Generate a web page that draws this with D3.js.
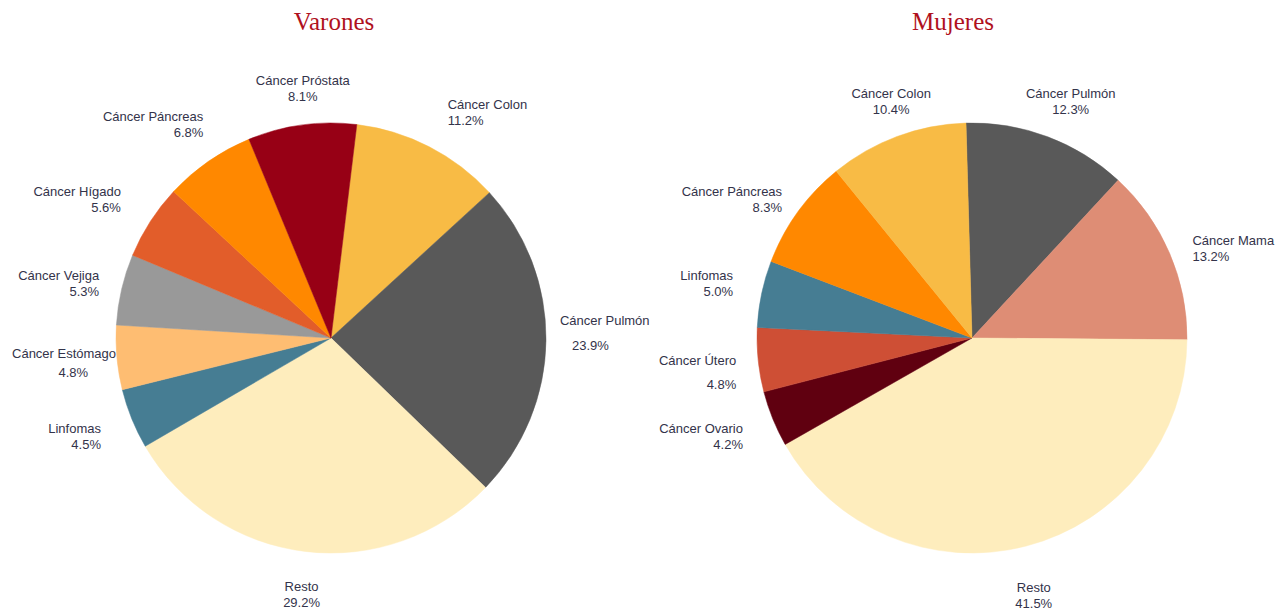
<!DOCTYPE html>
<html>
<head>
<meta charset="UTF-8">
<title>Muertes por cáncer - Varones y Mujeres</title>
<script src="https://cdnjs.cloudflare.com/ajax/libs/d3/7.8.5/d3.min.js"></script>
<style>
    body { margin: 0; background: #fff; }
    svg { display: block; }
    .title { font-family: "Liberation Serif", "DejaVu Serif", serif; font-size: 25px; fill: #b0111e; }
    .lbl { font-family: "Liberation Sans", Arial, sans-serif; font-size: 13px; fill: #33334a; }
    .fig { font-family: "Liberation Serif", serif; font-size: 26px; font-weight: bold; fill: #000; }
</style>
</head>
<body>
<svg id="chart"></svg>
<script>
    // data, in drawing order (clockwise)
    const varonesCats = ["Cáncer Colon", "Cáncer Pulmón", "Resto", "Linfomas", "Cáncer Estómago",
        "Cáncer Vejiga", "Cáncer Hígado", "Cáncer Páncreas", "Cáncer Próstata"];
    const varonesVals = [11.2, 23.9, 29.2, 4.5, 4.8, 5.3, 5.6, 6.8, 8.1];

    const mujeresCats = ["Cáncer Pulmón", "Cáncer Mama", "Resto", "Cáncer Ovario", "Cáncer Útero",
        "Linfomas", "Cáncer Páncreas", "Cáncer Colon"];
    const mujeresVals = [12.3, 13.2, 41.5, 4.2, 4.8, 5.0, 8.3, 10.4];

    const sliceColors = {
        "Cáncer Colon": "#f8bb45",
        "Cáncer Pulmón": "#595959",
        "Resto": "#feedbd",
        "Linfomas": "#467d93",
        "Cáncer Estómago": "#febd72",
        "Cáncer Vejiga": "#999999",
        "Cáncer Hígado": "#e25d2a",
        "Cáncer Páncreas": "#ff8800",
        "Cáncer Próstata": "#970015",
        "Cáncer Mama": "#de8d75",
        "Cáncer Ovario": "#600010",
        "Cáncer Útero": "#ce4f35"
    };

    // label layout tweaks (the original labels were hand placed)
    const lineGap = {
        "Varones|Cáncer Pulmón": 25,
        "Varones|Cáncer Estómago": 19,
        "Mujeres|Cáncer Útero": 24
    };
    const labelNudge = {
        "Varones|Cáncer Colon": [8, -3],
        "Varones|Cáncer Pulmón": [-16, -9],
        "Varones|Cáncer Hígado": [-10, -3],
        "Varones|Cáncer Páncreas": [8, -8],
        "Varones|Cáncer Próstata": [4, -1],
        "Varones|Linfomas": [-3, 1],
        "Varones|Cáncer Vejiga": [0, 2],
        "Varones|Cáncer Estómago": [6, 1],
        "Mujeres|Cáncer Pulmón": [15, -2],
        "Mujeres|Cáncer Colon": [2, -2],
        "Mujeres|Cáncer Mama": [2, 10],
        "Mujeres|Cáncer Páncreas": [3, 8],
        "Mujeres|Linfomas": [-6, -3],
        "Mujeres|Cáncer Útero": [8, 7],
        "Mujeres|Cáncer Ovario": [-2, 1],
        "Mujeres|Resto": [0, 7]
    };
    const secondLineDx = {
        "Varones|Cáncer Pulmón": 12,
        "Varones|Cáncer Estómago": -28
    };

    const width = 1277, height = 608;
    const radius = 215, cy = 338;
    const fmt = d3.format(".1f");

    const svg = d3.select('#chart')
        .attr('width', width)
        .attr('height', height);

    // cropped figure caption at the very top
    svg.append('text').attr('class', 'fig').attr('x', 12).attr('y', -5).text('Figura 1.');

    function drawPie(title, cx, titleX, cats, vals, startDeg) {
        const start = startDeg * Math.PI / 180;
        const pie = d3.pie().sort(null)
            .startAngle(start)
            .endAngle(start + 2 * Math.PI);
        const arc = d3.arc().innerRadius(0).outerRadius(radius);
        const arcs = pie(vals);

        svg.append('text')
            .attr('class', 'title')
            .attr('x', titleX)
            .attr('y', 30)
            .attr('text-anchor', 'middle')
            .text(title);

        const g = svg.append('g').attr('transform', 'translate(' + cx + ',' + cy + ')');
        g.selectAll('path')
            .data(arcs)
            .enter().append('path')
            .attr('d', arc)
            .attr('fill', (d, i) => sliceColors[cats[i]])
            .attr('stroke', (d, i) => sliceColors[cats[i]])
            .attr('stroke-width', 0.5);

        arcs.forEach(function (d, i) {
            const key = title + '|' + cats[i];
            const mid = (d.startAngle + d.endAngle) / 2;
            const s = Math.sin(mid), c = Math.cos(mid);
            const ra = c < 0 ? 245 : 238;
            const px = cx + ra * s, py = cy - ra * c;
            const gap = lineGap[key] || 16;
            const h = gap + 10;
            const centerY = py - c * h / 2;
            const b1 = centerY - h / 2 + 10;
            const anchor = s > 0.4 ? 'start' : (s < -0.4 ? 'end' : 'middle');

            const t = svg.append('text')
                .attr('class', 'lbl')
                .attr('text-anchor', anchor);
            t.append('tspan').attr('x', px).attr('y', b1).text(cats[i]);
            t.append('tspan').attr('x', px + (secondLineDx[key] || 0)).attr('y', b1 + gap)
                .text(fmt(vals[i]) + '%');

            // keep labels inside the picture, then apply the hand nudges
            const bb = t.node().getBBox();
            let shift = 0;
            if (bb.x < 6) shift = 6 - bb.x;
            if (bb.x + bb.width > width - 1) shift = width - 1 - (bb.x + bb.width);
            const nudge = labelNudge[key] || [0, 0];
            t.attr('transform', 'translate(' + (shift + nudge[0]) + ',' + nudge[1] + ')');
        });
    }

    drawPie('Varones', 331, 334, varonesCats, varonesVals, 6.9);
    drawPie('Mujeres', 972, 953, mujeresCats, mujeresVals, -1.6);
</script>
</body>
</html>
